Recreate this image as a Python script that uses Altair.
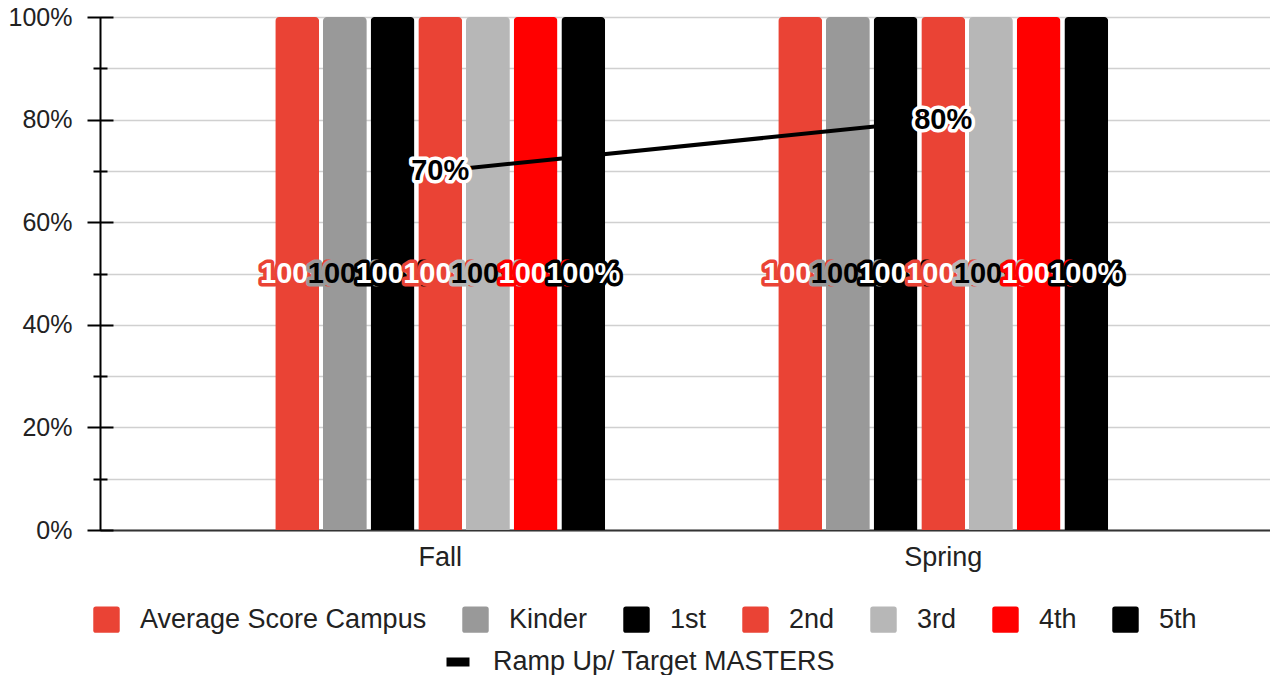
import altair as alt
import pandas as pd

# Chart data
seasons = ["Fall", "Spring"]
series = ["Average Score Campus", "Kinder", "1st", "2nd", "3rd", "4th", "5th"]
fall_scores = [1.0, 1.0, 1.0, 1.0, 1.0, 1.0, 1.0]
spring_scores = [1.0, 1.0, 1.0, 1.0, 1.0, 1.0, 1.0]
target_name = "Ramp Up/ Target MASTERS"
target_values = [0.70, 0.80]
y_ticks = [0.0, 0.1, 0.2, 0.3, 0.4, 0.5, 0.6, 0.7, 0.8, 0.9, 1.0]

# Styling
bar_colors = ["#ea4335", "#999999", "#000000", "#ea4335", "#b7b7b7", "#ff0000", "#000000"]
label_fill = ["#ffffff", "#000000", "#ffffff", "#ffffff", "#000000", "#ffffff", "#ffffff"]
FONT = "Liberation Sans"

rows = []
for s, vals in zip(seasons, [fall_scores, spring_scores]):
    for name, v in zip(series, vals):
        rows.append({"season": s, "series": name, "value": v})
bars_df = pd.DataFrame(rows)
line_df = pd.DataFrame({"season": seasons, "target": target_values, "name": [target_name] * len(seasons)})

x_scale = alt.Scale(domain=seasons, paddingInner=0.344, paddingOuter=0.335, align=0.52)
xoff_scale = alt.Scale(domain=series, paddingInner=0.08, paddingOuter=0)
y_scale = alt.Scale(domain=[0, 1])

x_axis = alt.Axis(labelAngle=0, ticks=False, domainColor="#333333", domainWidth=2,
                  labelFontSize=27, labelColor="#222222", labelPadding=14, labelFont=FONT,
                  title=None)

rounded = "M-0.8,-1H0.8Q1,-1 1,-0.8V0.8Q1,1 0.8,1H-0.8Q-1,1 -1,0.8V-0.8Q-1,-1 -0.8,-1Z"
minor_test = "round(datum.value*10) % 2 == 1"

bars = alt.Chart(bars_df).mark_bar(
    cornerRadiusTopLeft=4, cornerRadiusTopRight=4
).encode(
    x=alt.X("season:N", scale=x_scale, title=None, axis=x_axis),
    xOffset=alt.XOffset("series:N", scale=xoff_scale),
    y=alt.Y("value:Q", scale=y_scale, title=None,
            axis=alt.Axis(orient="left", values=y_ticks, offset=-13, domain=False,
                          tickSize=26, tickWidth=2, tickColor="#000000",
                          tickDash={"condition": {"test": minor_test, "value": [0, 6, 14, 6]}, "value": [26, 0]},
                          grid=True, gridColor="#d0d0d0", gridWidth=1.5,
                          labelExpr="round(datum.value*10) % 2 == 0 ? format(datum.value, '.0%') : ''",
                          labelFontSize=25, labelColor="#222222", labelPadding=15, labelFont=FONT)),
    color=alt.Color("series:N", scale=alt.Scale(domain=series, range=bar_colors),
                    legend=alt.Legend(orient="none", legendX=-7, legendY=589, direction="horizontal",
                                      columns=7, title=None, symbolType=rounded, symbolSize=700,
                                      symbolStrokeWidth=0, labelFontSize=27, labelFont=FONT,
                                      labelColor="#222222", labelOffset=20, columnPadding=35,
                                      padding=0, labelLimit=500)),
)

# Value labels: one halo layer and one fill layer per series, so each label sits above the previous one
label_layers = []
for name, halo, fill in zip(series, bar_colors, label_fill):
    base = alt.Chart(bars_df).transform_filter(
        alt.datum.series == name
    ).transform_calculate(
        mid="datum.value / 2", txt="format(datum.value, '.0%')"
    ).encode(
        x=alt.X("season:N", scale=x_scale, title=None, axis=x_axis),
        xOffset=alt.XOffset("series:N", scale=xoff_scale),
        y=alt.Y("mid:Q", scale=y_scale, axis=None),
        text="txt:N",
    )
    label_layers.append(base.mark_text(font=FONT, fontSize=29, fontWeight="bold", fill=halo,
                                       stroke=halo, strokeWidth=7, strokeJoin="round"))
    label_layers.append(base.mark_text(font=FONT, fontSize=29, fontWeight="bold", fill=fill))

line = alt.Chart(line_df).mark_line(strokeWidth=4).encode(
    x=alt.X("season:N", scale=x_scale, title=None, axis=x_axis),
    y=alt.Y("target:Q", scale=y_scale, title=None,
            axis=alt.Axis(orient="left", domain=True, domainColor="#000000", domainWidth=2,
                          ticks=False, labels=False, grid=False)),
    stroke=alt.Stroke("name:N", scale=alt.Scale(domain=[target_name], range=["#000000"]),
                      legend=alt.Legend(orient="none", legendX=342, legendY=629, title=None,
                                        symbolType="stroke", symbolSize=529, symbolStrokeWidth=9,
                                        labelFontSize=27, labelFont=FONT, labelColor="#222222",
                                        labelOffset=19, padding=0, labelLimit=500)),
)

line_base = alt.Chart(line_df).transform_calculate(
    txt="format(datum.target, '.0%')"
).encode(
    x=alt.X("season:N", scale=x_scale, title=None, axis=x_axis),
    y=alt.Y("target:Q", scale=y_scale, axis=None),
    text="txt:N",
)
line_halo = line_base.mark_text(font=FONT, fontSize=29, fontWeight="bold", fill="#ffffff",
                                stroke="#ffffff", strokeWidth=7, strokeJoin="round")
line_text = line_base.mark_text(font=FONT, fontSize=29, fontWeight="bold", fill="#000000")

chart = alt.layer(
    bars, *label_layers, line, line_halo, line_text
).resolve_axis(
    y="independent"
).properties(
    width=1170, height=513,
    autosize=alt.AutoSizeParams(type="none"),
    padding={"left": 100, "top": 17, "right": 0, "bottom": 145},
).configure(
    font=FONT
).configure_view(
    stroke=None
)

chart.save("out.html", embed_options={"renderer": "svg", "actions": False})
